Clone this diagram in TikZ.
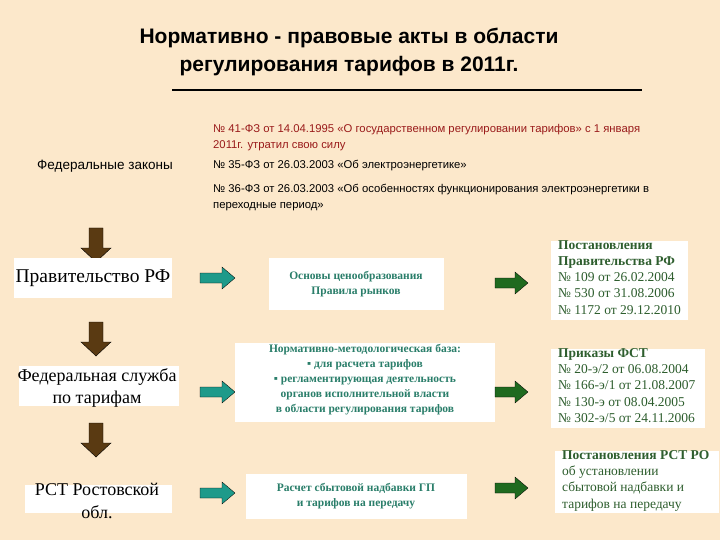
\documentclass[tikz,border=0pt]{standalone}
\usepackage{fontspec}
\setmainfont{Liberation Serif}
\newfontfamily\sans{Liberation Sans}
\definecolor{bg}{HTML}{FCE8CB}
\definecolor{lawred}{HTML}{9A1B1B}
\definecolor{brownA}{HTML}{5A3A12}
\definecolor{tealA}{HTML}{1E9A8A}
\definecolor{greenA}{HTML}{1F6A1F}
\definecolor{midtxt}{HTML}{2A7E6A}
\definecolor{righttxt}{HTML}{2E5E2E}
\begin{document}
\begin{tikzpicture}[x=1pt,y=-1pt,
  law/.style={anchor=west,font=\sans\fontsize{11.3}{12}\selectfont,align=left,inner sep=0pt},
  down/.style={fill=brownA,draw=black,line width=0.4pt},
  tarr/.style={fill=tealA,draw=black,line width=0.3pt},
  garr/.style={fill=greenA,draw=black,line width=0.3pt},
  midt/.style={font=\fontsize{11.5}{15}\selectfont\bfseries,text=midtxt,align=center,inner sep=0pt},
  rt/.style={font=\fontsize{13.5}{16.3}\selectfont,text=righttxt,align=left,anchor=north west,inner sep=0pt}]
\useasboundingbox (0,0) rectangle (720,540);
\fill[bg] (0,0) rectangle (720,540);
\node[font=\sans\bfseries\fontsize{21}{28}\selectfont,align=center] (title) at (349,52) {Нормативно - правовые акты в области\\регулирования тарифов в 2011г.};
\draw[line width=2pt] (172,90) -- (642,90);
\node[anchor=west,font=\sans\fontsize{13.5}{14}\selectfont,inner sep=0pt] (fz) at (37,166) {Федеральные законы};
\node[law,text=lawred] (l1) at (213,138) {№ 41-ФЗ от 14.04.1995 «О государственном регулировании тарифов» с 1 января\\[4pt]2011г. утратил свою силу};
\node[law] (l2) at (213,166) {№ 35-ФЗ от 26.03.2003 «Об электроэнергетике»};
\node[law] (l3) at (213,198) {№ 36-ФЗ от 26.03.2003 «Об особенностях функционирования электроэнергетики в\\[4pt]переходные период»};
% brown arrows
\foreach \t in {228,322,423}{
  \draw[down] (89,\t) -- (103,\t) -- (103,\t+20) -- (111,\t+20) -- (96,\t+34) -- (81,\t+20) -- (89,\t+20) -- cycle;}
% left boxes
\fill[white] (14,258) rectangle (172,298);
\node[font=\fontsize{19.5}{20}\selectfont] (g) at (93,278) {Правительство РФ};
\fill[white] (19,366) rectangle (179,406);
\node[font=\fontsize{18}{22}\selectfont,align=center] (f) at (97,388) {Федеральная служба\\по тарифам};
\fill[white] (25,485) rectangle (172,513);
\node[font=\fontsize{18}{23}\selectfont,align=center] (r) at (97,501) {РСТ Ростовской\\обл.};
% teal arrows
\foreach \y in {278,392,493}{
  \draw[tarr] (200,\y-5) -- (222,\y-5) -- (222,\y-11) -- (235,\y) -- (222,\y+11) -- (222,\y+5) -- (200,\y+5) -- cycle;}
% middle boxes
\fill[white] (269,258) rectangle (444,310);
\node[midt] (m1) at (356,284) {Основы ценообразования\\Правила рынков};
\fill[white] (235,343) rectangle (495,422);
\node[midt] (m2) at (365,380) {Нормативно-методологическая база:\\▪ для расчета тарифов\\▪ регламентирующая деятельность\\органов исполнительной власти\\в области регулирования тарифов};
\fill[white] (246,474) rectangle (467,519);
\node[midt] (m3) at (356,496) {Расчет сбытовой надбавки ГП\\и тарифов на передачу};
% green arrows
\foreach \y in {283,392,488}{
  \draw[garr] (495,\y-5) -- (515,\y-5) -- (515,\y-11) -- (528,\y) -- (515,\y+11) -- (515,\y+5) -- (495,\y+5) -- cycle;}
% right boxes
\fill[white] (551,241) rectangle (688,320);
\node[rt] (p1) at (558,240) {\textbf{Постановления}\\\textbf{Правительства РФ}\\№ 109 от 26.02.2004\\№ 530 от 31.08.2006\\№ 1172 от 29.12.2010};
\fill[white] (551,349) rectangle (705,428);
\node[rt] (p2) at (558,348) {\textbf{Приказы ФСТ}\\№ 20-э/2 от 06.08.2004\\№ 166-э/1 от 21.08.2007\\№ 130-э от 08.04.2005\\№ 302-э/5 от 24.11.2006};
\fill[white] (555,451) rectangle (719,513);
\node[rt] (p3) at (562,450) {\textbf{Постановления РСТ РО}\\об установлении\\сбытовой надбавки и\\тарифов на передачу};
\end{tikzpicture}
\end{document}
